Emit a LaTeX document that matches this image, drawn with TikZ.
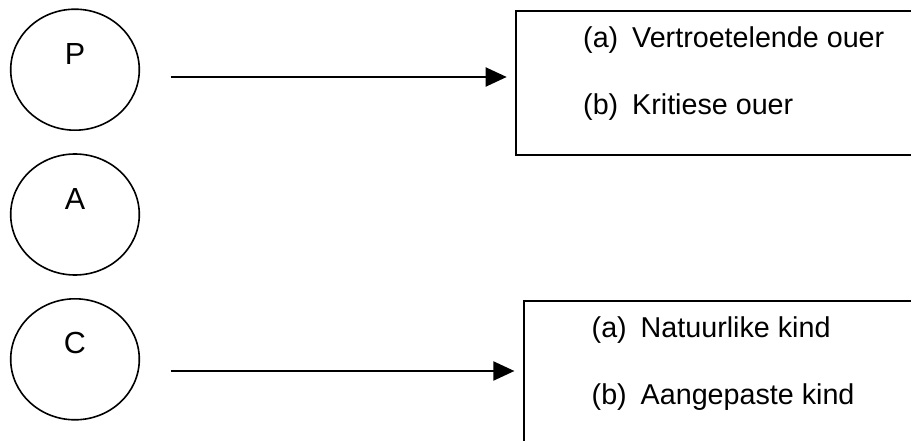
\documentclass[tikz,border=0pt]{standalone}
\usepackage{fontspec}
\setmainfont{Liberation Sans}
\usetikzlibrary{shapes.geometric,arrows.meta}
\tikzset{
  circ/.style={ellipse, draw, line width=1.6pt, minimum width=128.6pt, minimum height=121pt, inner sep=0pt},
  letter/.style={inner sep=0pt, anchor=base, font=\fontsize{30.5pt}{36pt}\selectfont},
  boxnode/.style={draw, line width=2pt, anchor=north west, inner sep=0pt},
  txt/.style={inner sep=0pt, anchor=base west, font=\fontsize{28.7pt}{34pt}\selectfont},
  arr/.style={line width=2pt, -{Triangle[length=21pt,width=19pt]}, shorten >=8.3pt}
}
\begin{document}
\begin{tikzpicture}[x=1pt,y=-1pt]
\useasboundingbox (0,0) rectangle (911,441);
\clip (0,0) rectangle (911,441);
% circles
\node[circ] (P) at (75,69.7) {};
\node[circ] (A) at (75,214.5) {};
\node[circ] (C) at (75,359.3) {};
\node[letter] (Pl) at ([yshift=-56pt]P.north) {P};
\node[letter] (Al) at ([yshift=-56pt]A.north) {A};
\node[letter] (Cl) at ([yshift=-55pt]C.north) {C};
% boxes
\node[boxnode, minimum width=420pt, minimum height=144pt] (B1) at (515,10) {};
\node[boxnode, minimum width=420pt, minimum height=170pt] (B2) at (522.7,300) {};
% texts
\node[txt] (t1) at (583,48) {\makebox[49pt][l]{(a)}Vertroetelende ouer};
\node[txt] (t2) at (583,115) {\makebox[49pt][l]{(b)}Kritiese ouer};
\node[txt] (t3) at (591.5,337) {\makebox[49pt][l]{(a)}Natuurlike kind};
\node[txt] (t4) at (591.5,404) {\makebox[49pt][l]{(b)}Aangepaste kind};
% arrows
\coordinate (s1) at (170.7,77);
\coordinate (s2) at (170.7,371);
\draw[arr] (s1) -- (s1 -| B1.west);
\draw[arr] (s2) -- (s2 -| B2.west);
\end{tikzpicture}
\end{document}
